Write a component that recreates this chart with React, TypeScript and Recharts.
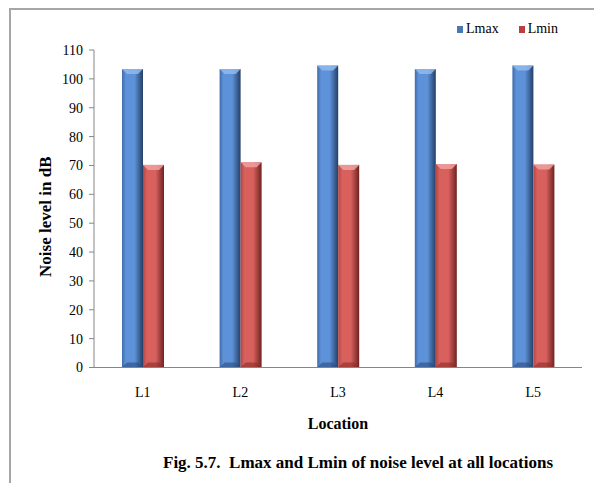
import React from "react";
import { BarChart, Bar, XAxis, YAxis, Legend } from "recharts";

const locations = ["L1", "L2", "L3", "L4", "L5"];
const lmax = [103.4, 103.4, 104.6, 103.4, 104.6];
const lmin = [70.2, 71.1, 70.2, 70.5, 70.3];
const yTicks = [0, 10, 20, 30, 40, 50, 60, 70, 80, 90, 100, 110];

const data = locations.map((loc, i) => ({ loc, Lmax: lmax[i], Lmin: lmin[i] }));

const FONT = "'Times New Roman', 'Liberation Serif', serif";
const AXIS = "#868686";

const palettes: Record<string, { left: string; mid: string; right: string; top: string; bottom: string; legend: string }> = {
  Lmax: { left: "#3f6cab", mid: "#5d91d8", right: "#243f66", top: "#8fb9ef", bottom: "#2c4d7e", legend: "#4a78b6" },
  Lmin: { left: "#b24644", mid: "#d8605d", right: "#6e2321", top: "#f0a19f", bottom: "#8a2d2b", legend: "#b8413f" },
};

const makeShape = (key: string) => (props: any) => {
  const { x, y, width, height, index } = props;
  if (!width || !height) return null;
  const p = palettes[key];
  const id = `g-${key}-${index}`;
  const b = Math.min(5, width / 4);
  return (
    <g>
      <defs>
        <linearGradient id={id} x1="0" y1="0" x2="1" y2="0">
          <stop offset="0%" stopColor={p.left} />
          <stop offset="18%" stopColor={p.mid} />
          <stop offset="60%" stopColor={p.mid} />
          <stop offset="100%" stopColor={p.right} />
        </linearGradient>
      </defs>
      <rect x={x} y={y} width={width} height={height} fill={`url(#${id})`} />
      <polygon
        points={`${x},${y} ${x + width},${y} ${x + width - b},${y + b} ${x + b},${y + b}`}
        fill={p.top}
        opacity={0.85}
      />
      <polygon
        points={`${x},${y + height} ${x + width},${y + height} ${x + width - b},${y + height - b} ${x + b},${y + height - b}`}
        fill={p.bottom}
        opacity={0.6}
      />
    </g>
  );
};

const LegendContent = () => (
  <div style={{ display: "flex", alignItems: "center", fontFamily: FONT, fontSize: 14, color: "#000" }}>
    {["Lmax", "Lmin"].map((k, i) => (
      <div key={k} style={{ display: "flex", alignItems: "center", marginRight: i === 0 ? 20 : 0 }}>
        <span style={{ display: "inline-block", width: 6, height: 7, background: palettes[k].legend, marginRight: 3 }} />
        <span>{k}</span>
      </div>
    ))}
  </div>
);

const YLabel = (props: any) => {
  const vb = props.viewBox;
  const cx = vb.x + 45;
  const cy = vb.y + vb.height / 2 + 8;
  return (
    <text
      x={cx}
      y={cy}
      transform={`rotate(-90, ${cx}, ${cy})`}
      textAnchor="middle"
      dominantBaseline="central"
      fontFamily={FONT}
      fontWeight="bold"
      fontSize={17}
      fill="#000"
    >
      Noise level in dB
    </text>
  );
};

const XLabel = (props: any) => {
  const vb = props.viewBox;
  return (
    <text
      x={vb.x + vb.width / 2}
      y={vb.y + 55.5}
      textAnchor="middle"
      dominantBaseline="central"
      fontFamily={FONT}
      fontWeight="bold"
      fontSize={16}
      fill="#000"
    >
      Location
    </text>
  );
};

export default function App() {
  return (
    <div style={{ position: "absolute", left: 0, top: 0, width: 594, height: 483, background: "#fff", overflow: "hidden" }}>
      <div
        style={{
          position: "absolute",
          left: 9,
          top: 8,
          width: 600,
          height: 500,
          borderLeft: "2px solid #a6a6a6",
          borderTop: "2px solid #a6a6a6",
        }}
      />
      <BarChart
        width={594}
        height={483}
        data={data}
        margin={{ top: 50, right: 12, left: 0, bottom: 55.5 }}
        barSize={21}
        barGap={0}
        style={{ position: "absolute", left: 0, top: 0 }}
      >
        <XAxis
          dataKey="loc"
          height={60}
          axisLine={{ stroke: AXIS }}
          tickLine={false}
          tickMargin={14}
          tick={{ fontFamily: FONT, fontSize: 14, fill: "#000" }}
          label={<XLabel />}
        />
        <YAxis
          width={94}
          domain={[0, 110]}
          ticks={yTicks}
          interval={0}
          axisLine={{ stroke: AXIS }}
          tickLine={{ stroke: AXIS }}
          tickSize={5}
          tickMargin={6}
          tick={{ fontFamily: FONT, fontSize: 14, fill: "#000" }}
          label={<YLabel />}
        />
        <Legend
          verticalAlign="middle"
          layout="horizontal"
          content={<LegendContent />}
          wrapperStyle={{ position: "absolute", top: 21, left: 457, width: 130, height: 18 }}
        />
        <Bar dataKey="Lmax" fill="#4f81bd" isAnimationActive={false} shape={makeShape("Lmax")} />
        <Bar dataKey="Lmin" fill="#c0504d" isAnimationActive={false} shape={makeShape("Lmin")} />
      </BarChart>
      <div
        style={{
          position: "absolute",
          left: 163,
          top: 452,
          fontFamily: FONT,
          fontWeight: "bold",
          fontSize: 17,
          whiteSpace: "pre",
          color: "#000",
          lineHeight: "22px",
        }}
      >
        {"Fig. 5.7.  Lmax and Lmin of noise level at all locations"}
      </div>
    </div>
  );
}
